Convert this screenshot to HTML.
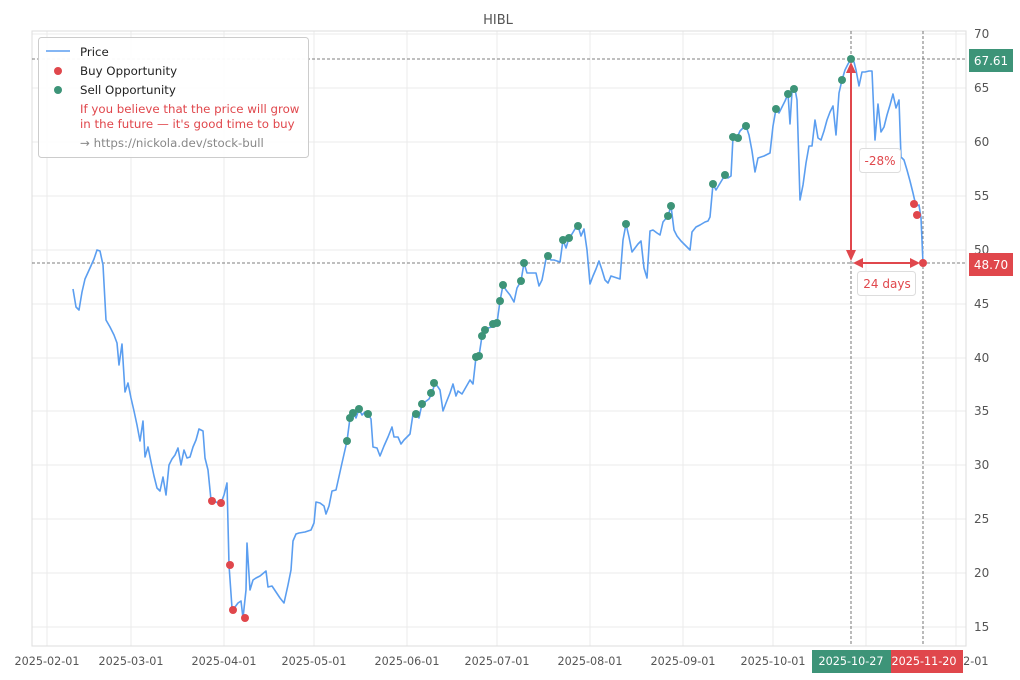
<!DOCTYPE html>
<html><head><meta charset="utf-8"><style>
body{margin:0;background:#fff;}
svg{display:block;font-family:"DejaVu Sans","Liberation Sans",sans-serif;}
</style></head><body>
<svg width="1020" height="680" viewBox="0 0 1020 680">
<rect width="1020" height="680" fill="#fff"/>
<text x="498" y="24" font-size="13" fill="#555" text-anchor="middle">HIBL</text>
<g stroke="#ebebeb" stroke-width="1">
<line x1="47" y1="31" x2="47" y2="646"/><line x1="131" y1="31" x2="131" y2="646"/><line x1="224" y1="31" x2="224" y2="646"/><line x1="314" y1="31" x2="314" y2="646"/><line x1="407" y1="31" x2="407" y2="646"/><line x1="497" y1="31" x2="497" y2="646"/><line x1="590" y1="31" x2="590" y2="646"/><line x1="683" y1="31" x2="683" y2="646"/><line x1="773" y1="31" x2="773" y2="646"/><line x1="866" y1="31" x2="866" y2="646"/><line x1="956" y1="31" x2="956" y2="646"/>
<line x1="32" y1="34" x2="966" y2="34"/><line x1="32" y1="88" x2="966" y2="88"/><line x1="32" y1="142" x2="966" y2="142"/><line x1="32" y1="196" x2="966" y2="196"/><line x1="32" y1="250" x2="966" y2="250"/><line x1="32" y1="304" x2="966" y2="304"/><line x1="32" y1="358" x2="966" y2="358"/><line x1="32" y1="411" x2="966" y2="411"/><line x1="32" y1="465" x2="966" y2="465"/><line x1="32" y1="519" x2="966" y2="519"/><line x1="32" y1="573" x2="966" y2="573"/><line x1="32" y1="627" x2="966" y2="627"/>
</g>
<rect x="32" y="31" width="934" height="615" fill="none" stroke="#ddd"/>
<g font-size="12" fill="#555">
<text x="974" y="38">70</text><text x="974" y="92">65</text><text x="974" y="146">60</text><text x="974" y="200">55</text><text x="974" y="254">50</text><text x="974" y="308">45</text><text x="974" y="362">40</text><text x="974" y="415">35</text><text x="974" y="469">30</text><text x="974" y="523">25</text><text x="974" y="577">20</text><text x="974" y="631">15</text>
</g>
<g font-size="11.2" fill="#555" text-anchor="middle">
<text x="47" y="665">2025-02-01</text><text x="131" y="665">2025-03-01</text><text x="224" y="665">2025-04-01</text><text x="314" y="665">2025-05-01</text><text x="407" y="665">2025-06-01</text><text x="497" y="665">2025-07-01</text><text x="590" y="665">2025-08-01</text><text x="683" y="665">2025-09-01</text><text x="773" y="665">2025-10-01</text><text x="956" y="665">2025-12-01</text>
</g>
<line x1="32" y1="59" x2="966" y2="59" stroke="#555" stroke-dasharray="3,2" stroke-width="0.8"/>
<line x1="32" y1="263" x2="966" y2="263" stroke="#555" stroke-dasharray="3,2" stroke-width="0.8"/>
<line x1="851" y1="31" x2="851" y2="646" stroke="#555" stroke-dasharray="3,2" stroke-width="0.8"/>
<line x1="923" y1="31" x2="923" y2="646" stroke="#555" stroke-dasharray="3,2" stroke-width="0.8"/>
<polyline fill="none" stroke="#5b9ef0" stroke-width="1.6" stroke-linejoin="round" points="73,289 76,307 79,310 82,292 85,279 90,268 94,259 97,250 100,251 103,265 106,320 110,327 114,335 117,343 119,365 122,344 125,392 128,383 131,398 134,411 137,425 140,441 143,421 145,457 148,447 151,462 154,476 157,488 160,491 163,477 166,495 169,465 172,459 175,455 178,448 181,465 184,450 187,458 190,457 193,447 196,440 199,429 203,431 205,458 208,470 211,500 214,501 218,503 221,503 224,495 227,483 229,565 232,608 235,607 238,603 241,601 243,618 246,590 247,543 250,590 253,580 256,578 260,576 266,571 268,587 272,586 276,592 280,598 284,603 288,585 291,570 293,541 296,534 299,533 305,532 308,531 311,530 314,523 316,502 320,503 324,506 326,514 329,506 332,491 336,490 342,463 347,441 350,418 353,413 356,418 359,409 362,415 365,412 368,414 371,419 373,447 377,448 380,456 384,446 388,437 392,427 394,437 398,437 401,444 404,440 408,436 410,434 413,414 416,414 419,418 422,404 425,402 429,399 432,393 435,383 438,387 440,390 443,411 446,403 450,393 453,384 456,396 458,391 462,394 466,387 470,380 473,384 476,357 479,356 482,336 485,329 488,328 492,327 495,324 497,323 500,301 503,285 506,290 510,295 514,302 517,288 521,281 524,263 527,273 530,273 536,273 539,286 542,280 546,259 548,256 551,260 554,260 560,262 563,240 566,248 569,238 572,234 575,229 578,226 581,236 584,229 587,250 590,284 593,276 596,269 599,261 602,270 605,280 608,283 611,276 614,277 620,279 623,240 626,224 629,237 632,252 635,248 638,244 641,241 644,268 647,278 650,231 653,230 657,233 660,235 663,222 668,216 671,206 674,230 677,236 681,241 685,245 688,248 690,250 692,232 696,227 700,225 705,222 708,221 710,217 713,184 716,190 719,185 722,180 725,175 728,178 731,176 733,137 736,140 740,131 743,128 746,126 749,135 752,151 755,172 758,158 764,156 770,153 773,126 776,109 779,113 782,107 785,101 788,94 790,124 792,92 795,89 797,100 800,200 803,185 806,163 809,146 812,146 815,120 818,138 821,140 824,131 827,120 830,112 833,106 836,135 839,93 842,80 845,70 848,64 851,59 854,62 856,70 859,86 862,72 865,72 869,71 872,71 875,140 878,104 881,132 884,127 887,115 890,105 893,94 896,108 899,100 901,157 904,160 907,170 910,181 913,193 916,206 919,205 921,218 923,263"/>
<g fill="#3d9478">
<circle cx="347" cy="441" r="4"/><circle cx="350" cy="418" r="4"/><circle cx="353" cy="413" r="4"/><circle cx="359" cy="409" r="4"/><circle cx="368" cy="414" r="4"/><circle cx="416" cy="414" r="4"/><circle cx="422" cy="404" r="4"/><circle cx="431" cy="393" r="4"/><circle cx="434" cy="383" r="4"/><circle cx="476" cy="357" r="4"/><circle cx="479" cy="356" r="4"/><circle cx="482" cy="336" r="4"/><circle cx="485" cy="330" r="4"/><circle cx="493" cy="324" r="4"/><circle cx="497" cy="323" r="4"/><circle cx="500" cy="301" r="4"/><circle cx="503" cy="285" r="4"/><circle cx="521" cy="281" r="4"/><circle cx="524" cy="263" r="4"/><circle cx="548" cy="256" r="4"/><circle cx="563" cy="240" r="4"/><circle cx="569" cy="238" r="4"/><circle cx="578" cy="226" r="4"/><circle cx="626" cy="224" r="4"/><circle cx="668" cy="216" r="4"/><circle cx="671" cy="206" r="4"/><circle cx="713" cy="184" r="4"/><circle cx="725" cy="175" r="4"/><circle cx="733" cy="137" r="4"/><circle cx="738" cy="138" r="4"/><circle cx="746" cy="126" r="4"/><circle cx="776" cy="109" r="4"/><circle cx="788" cy="94" r="4"/><circle cx="794" cy="89" r="4"/><circle cx="842" cy="80" r="4"/><circle cx="851" cy="59" r="4"/>
</g>
<g fill="#e0474c">
<circle cx="212" cy="501" r="4"/><circle cx="221" cy="503" r="4"/><circle cx="230" cy="565" r="4"/><circle cx="233" cy="610" r="4"/><circle cx="245" cy="618" r="4"/><circle cx="914" cy="204" r="4"/><circle cx="917" cy="215" r="4"/><circle cx="923" cy="263" r="4"/>
</g>
<g stroke="#e0474c" stroke-width="2" fill="#e0474c">
<line x1="851" y1="70" x2="851" y2="254"/>
<polygon points="851,62 846,73 856,73" stroke="none"/>
<polygon points="851,261 846,250 856,250" stroke="none"/>
<line x1="862" y1="263" x2="912" y2="263"/>
<polygon points="853,263 863,258 863,268" stroke="none"/>
<polygon points="920,263 910,258 910,268" stroke="none"/>
</g>
<rect x="859.5" y="148.5" width="41" height="24" rx="3" fill="#fff" stroke="#ddd"/>
<text x="880" y="165" font-size="12" fill="#e0474c" text-anchor="middle">-28%</text>
<rect x="857.5" y="271.5" width="58" height="24" rx="3" fill="#fff" stroke="#ddd"/>
<text x="887" y="288" font-size="12" fill="#e0474c" text-anchor="middle">24 days</text>
<rect x="969" y="49" width="44" height="23" fill="#3d9478"/>
<text x="991" y="65" font-size="12" fill="#fff" text-anchor="middle">67.61</text>
<rect x="969" y="253" width="44" height="23" fill="#e0474c"/>
<text x="991" y="269" font-size="12" fill="#fff" text-anchor="middle">48.70</text>
<rect x="812" y="650" width="79" height="23" fill="#3d9478"/>
<text x="851" y="665" font-size="11.2" fill="#fff" text-anchor="middle">2025-10-27</text>
<rect x="891" y="650" width="72" height="23" fill="#e0474c"/>
<text x="924" y="665" font-size="11.2" fill="#fff" text-anchor="middle">2025-11-20</text>
<rect x="38.5" y="37.5" width="270" height="120" rx="3" fill="#fff" fill-opacity="0.95" stroke="#ccc"/>
<line x1="46" y1="51" x2="70" y2="51" stroke="#5b9ef0" stroke-width="1.6"/>
<text x="80" y="56" font-size="11.8" fill="#222">Price</text>
<circle cx="58" cy="71" r="4" fill="#e0474c"/>
<text x="80" y="75" font-size="11.8" fill="#222">Buy Opportunity</text>
<circle cx="58" cy="90" r="4" fill="#3d9478"/>
<text x="80" y="94" font-size="11.8" fill="#222">Sell Opportunity</text>
<text x="80" y="113" font-size="11.8" fill="#e0474c">If you believe that the price will grow</text>
<text x="80" y="128" font-size="11.8" fill="#e0474c">in the future — it's good time to buy</text>
<text x="80" y="147" font-size="11.8" fill="#888">→ https://nickola.dev/stock-bull</text>
</svg>
</body></html>
